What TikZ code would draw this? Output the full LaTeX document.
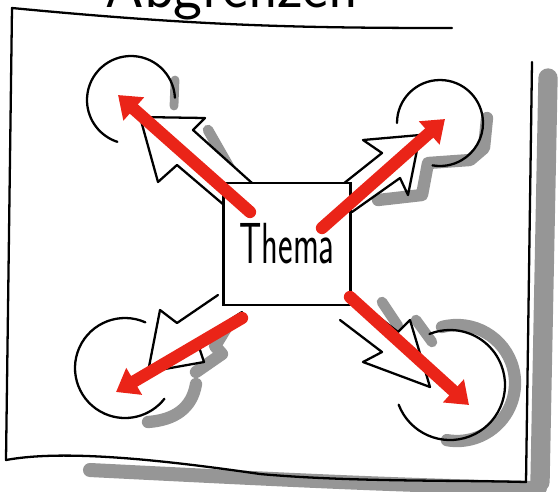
\documentclass[tikz,border=0pt]{standalone}
\usepackage{xcolor}
\usetikzlibrary{arrows.meta, positioning}
\definecolor{markerred}{RGB}{234, 36, 24}
\definecolor{shadowgray}{RGB}{150, 150, 150}
\tikzstyle{pen} = [
    line width=1.3pt,
    draw=black,
    line cap=round,
    line join=round
]
\tikzstyle{shade} = [
    line width=9pt,
    draw=shadowgray,
    line cap=round,
    line join=round
]
\tikzstyle{hollow} = [
    pen,
    fill=white
]
\tikzstyle{themabox} = [
    rectangle,
    draw,
    line width=1.3pt,
    fill=white,
    minimum width=2.54cm,
    minimum height=2.44cm,
    font=\sffamily\fontsize{22}{26}\selectfont
]
\tikzstyle{marker} = [
    line width=7pt,
    draw=markerred,
    line cap=round,
    -{Triangle[length=12pt, width=17pt]}
]

\begin{document}
\begin{tikzpicture}[x=0.02cm, y=-0.02cm]
        \useasboundingbox (0,0) rectangle (560,491);
        \clip (0,0) rectangle (560,491);

        % Title (cut off at the top)
        \node[anchor=base, font=\sffamily\fontsize{35}{40}\selectfont] (title) at (232,7) {Abgrenzen};

        % Shadows
        \draw[shade, line width=11pt] (548,78) -- (540,482);
        \draw[shade, line width=8pt] (90,470) .. controls (250,478) and (400,486) .. (540,488);
        \draw[shade, line width=5pt] (175,80) -- (174,106);
        \draw[shade, line width=6pt] (208,130) -- (232,172);
        \draw[shade, line width=7pt] (487,118) -- (484,148) -- (470,160) -- (428,163) -- (422,195) -- (378,200);
        \draw[shade, line width=7pt] (232,318) -- (215,346) -- (222,354) -- (196,372);
        \draw[shade, line width=7pt] (196,384) .. controls (192,408) and (175,420) .. (148,422);
        \draw[shade, line width=6pt] (382,302) -- (398,326);
        \draw[shade, line width=6pt] (416,320) -- (432,342);
        \draw[shade, line width=7pt] ([shift={(-105:58)}]457,383) arc[start angle=-105, end angle=100, radius=58];

        % Frame
        \draw[pen] (452,28) .. controls (300,28) and (200,26) .. (12,8) -- (6,460)
            .. controls (60,450) and (150,458) .. (260,474) .. controls (350,482) and (450,480) .. (526,482) -- (532,62);

        % Circles
        \draw[pen] ([shift={(-3:44)}]131,100) arc[start angle=-3, end angle=-252, radius=44];
        \draw[pen] ([shift={(180:43)}]440,123) arc[start angle=180, end angle=460, radius=43];
        \draw[pen] ([shift={(-66:50)}]125,368) arc[start angle=-66, end angle=-322, radius=50];
        \draw[pen] ([shift={(159:55)}]450,385) arc[start angle=159, end angle=-112, radius=55];

        % Hollow arrows
        \draw[hollow] (252,183) -- (193,130) -- (205,118) -- (140,117) -- (158,182) -- (177,165) -- (224,205);
        \draw[hollow] (338,188) -- (382,153) -- (363,140) -- (420,135) -- (408,195) -- (400,178) -- (352,212);
        \draw[hollow] (218,295) -- (177,323) -- (160,310) -- (148,372) -- (204,362) -- (197,341) -- (242,312);
        \draw[hollow] (352,296) -- (398,332) -- (410,320) -- (430,387) -- (363,362) -- (382,352) -- (340,320);

        % Nodes
        \node[themabox] (thema) at (287,244) {\scalebox{0.9}[1.5]{Thema}};
        \coordinate (tl) at (118,95);
        \coordinate (tr) at (445,119);
        \coordinate (bl) at (116,392);
        \coordinate (br) at (469,405);
        \coordinate (tls) at (250,212);
        \coordinate (trs) at (322,228);
        \coordinate (bls) at (242,318);
        \coordinate (brs) at (350,297);

        % Red arrows
        \draw[marker] (tls) -- (tl);
        \draw[marker] (trs) -- (tr);
        \draw[marker] (bls) -- (bl);
        \draw[marker] (brs) -- (br);
    \end{tikzpicture}
\end{document}
